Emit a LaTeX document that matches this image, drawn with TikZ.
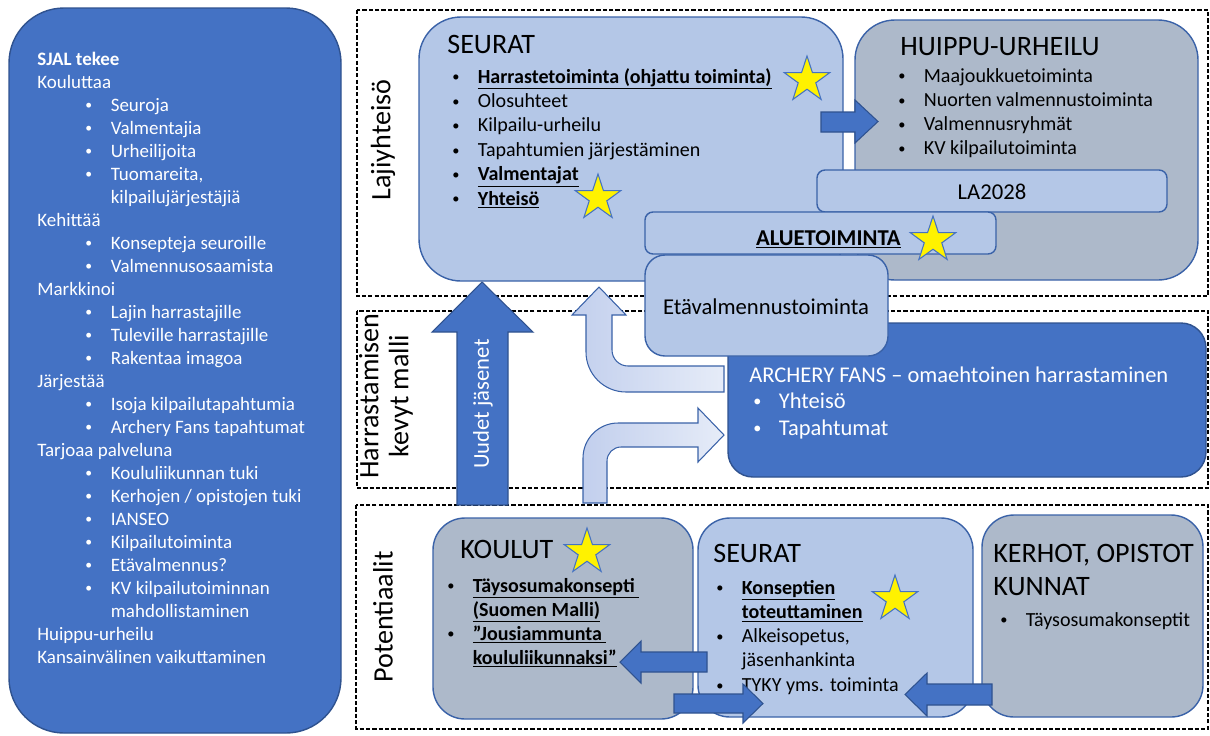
\documentclass[tikz,border=0pt]{standalone}
\usepackage{fontspec}
\setmainfont{Carlito}
\usetikzlibrary{shapes.geometric}

\definecolor{darkblue}{HTML}{4472C4}
\definecolor{darkedge}{HTML}{2F528F}
\definecolor{lightblue}{HTML}{B4C7E7}
\definecolor{greyblue}{HTML}{ADB9CA}
\definecolor{edgeblue}{HTML}{3A62A8}
\definecolor{pale}{HTML}{E6ECF8}
\definecolor{paledark}{HTML}{C2CFED}

\newcommand{\bul}{\makebox[0.51cm][l]{\raisebox{0.12ex}{\scalebox{0.72}{\textbullet}}}}
\newcommand{\cont}{\hspace*{0.51cm}}
\newcommand{\ind}{\hspace*{0.96cm}}
\newcommand{\keyitem}[1]{\underline{\textbf{#1}}}

\begin{document}
\begin{tikzpicture}[
        x=0.02cm, y=-0.02cm,
        frame/.style={draw=black, line width=0.6pt, dash pattern=on 2.4pt off 1.2pt},
        darkbox/.style={draw=darkedge, fill=darkblue, line width=0.8pt},
        lightbox/.style={draw=edgeblue, fill=lightblue, line width=0.8pt},
        greybox/.style={draw=edgeblue, fill=greyblue, line width=0.8pt},
        blockarrow/.style={draw=darkedge, fill=darkblue, line width=0.6pt},
        bentarrow/.style={draw=edgeblue, left color=paledark, right color=pale, line width=0.6pt},
        goldstar/.style={star, star points=5, star point ratio=2.6, draw=darkblue, fill=yellow,
          line width=0.6pt, minimum size=0.96cm, inner sep=0pt},
        txt/.style={anchor=base west, inner sep=0pt, font=\fontsize{11.4}{13.9}\selectfont},
        side/.style={txt, text=white, font=\fontsize{10.8}{13}\selectfont},
        fans/.style={txt, text=white, font=\fontsize{12.8}{15}\selectfont},
        head/.style={anchor=base west, inner sep=0pt, font=\fontsize{16}{19}\selectfont},
        label/.style={inner sep=0pt, font=\fontsize{12.9}{15}\selectfont},
        band/.style={rotate=90, inner sep=0pt, align=center, font=\fontsize{16}{17}\selectfont},
      ]
      \useasboundingbox (0,0) rectangle (1210,735);

      % dashed bands
      \draw[frame] (357,10) rectangle (1208,296);
      \draw[frame] (357,311) rectangle (1208,488);
      \draw[frame] (356,505) rectangle (1208,729);

      % SJAL panel
      \draw[darkbox, rounded corners=1.1cm] (9,8) rectangle (341,733);
      \foreach \t [count=\i] in {\textbf{SJAL tekee}, Kouluttaa, \ind\bul Seuroja, \ind\bul Valmentajia,
          \ind\bul Urheilijoita, {\ind\bul Tuomareita,}, \ind\cont kilpailujärjestäjiä, Kehittää,
          \ind\bul Konsepteja seuroille, \ind\bul Valmennusosaamista, Markkinoi,
          \ind\bul Lajin harrastajille, \ind\bul Tuleville harrastajille, \ind\bul Rakentaa imagoa,
          Järjestää, \ind\bul Isoja kilpailutapahtumia, \ind\bul Archery Fans tapahtumat,
          Tarjoaa palveluna, \ind\bul Koululiikunnan tuki, \ind\bul Kerhojen / opistojen tuki,
          \ind\bul IANSEO, \ind\bul Kilpailutoiminta, \ind\bul Etävalmennus?,
          \ind\bul KV kilpailutoiminnan, \ind\cont mahdollistaminen, Huippu-urheilu,
          Kansainvälinen vaikuttaminen}
        \node[side] (sjal-\i) at (37, {42+23*\i}) {\t};

      \node[band] (laji) at (383,140) {Lajiyhteisö};
      \node[band] (kevyt) at (386,396) {Harrastamisen\\kevyt malli};
      \node[band] (pot) at (383,617) {Potentiaalit};

      % Lajiyhteisö
      \draw[lightbox, rounded corners=0.84cm] (419,17) rectangle (843,281);
      \draw[greybox, rounded corners=0.8cm] (855,20) rectangle (1198,280);
      \draw[blockarrow] (821,112) -- (855,112) -- (855,100) -- (878,121.5) -- (855,143) -- (855,132) -- (821,132) -- cycle;
      \draw[lightbox, rounded corners=0.16cm] (817,170) rectangle (1167,212);
      \draw[lightbox, rounded corners=0.16cm] (645,212) rectangle (996,254);

      \node[head] (seurat) at (447,53) {SEURAT};
      \foreach \t [count=\i] in {\keyitem{Harrastetoiminta (ohjattu toiminta)}, Olosuhteet, Kilpailu-urheilu,
          Tapahtumien järjestäminen, \keyitem{Valmentajat}, \keyitem{Yhteisö}}
        \node[txt] (seurat-\i) at (452, {83+24.4*(\i-1)}) {\bul\t};
      \node[head] (huippu) at (900,55) {HUIPPU-URHEILU};
      \foreach \t [count=\i] in {Maajoukkuetoiminta, Nuorten valmennustoiminta, Valmennusryhmät, KV kilpailutoiminta}
        \node[txt] (huippu-\i) at (898, {82+24.3*(\i-1)}) {\bul\t};
      \node[label] (la) at (992,192) {LA2028};
      \node[label, anchor=base east] (alue) at (901,245) {\keyitem{ALUETOIMINTA}};

      % Harrastamisen kevyt malli
      \draw[darkbox, rounded corners=0.5cm] (728,323) rectangle (1206,477);
      \draw[lightbox, rounded corners=0.4cm] (645,255) rectangle (888,356);
      \node[label] (eta) at (766,307) {Etävalmennustoiminta};
      \node[fans] (fans) at (749,382) {ARCHERY FANS -- omaehtoinen harrastaminen};
      \node[fans] (fans-1) at (753,408) {\bul Yhteisö};
      \node[fans] (fans-2) at (753,435) {\bul Tapahtumat};

      \draw[blockarrow] (457,505) -- (457,332) -- (432,332) -- (482,282) -- (533,332) -- (508,332) -- (508,505) -- cycle;
      \node[label, rotate=90, text=white] (uudet) at (483,404) {Uudet jäsenet};
      \draw[bentarrow] (724,366) -- (628,366) arc[start angle=270, end angle=180, radius=0.32cm]
        -- (612,315) -- (626,315) -- (599,287) -- (572,315) -- (586,315)
        -- (586,352) arc[start angle=180, end angle=270, radius=0.8cm] -- (724,392) -- cycle;
      \draw[bentarrow] (583,503) -- (583,458) arc[start angle=180, end angle=90, radius=0.7cm]
        -- (698,423) -- (698,408) -- (724,435) -- (698,462) -- (698,447) -- (621,447)
        arc[start angle=90, end angle=180, radius=0.28cm] -- (607,503) -- cycle;

      % Potentiaalit
      \draw[greybox, rounded corners=0.64cm] (433,518) rectangle (693,719);
      \draw[lightbox, rounded corners=0.64cm] (698,518) rectangle (973,717);
      \draw[greybox, rounded corners=0.64cm] (982,515) rectangle (1203,717);

      \node[head] (koulut) at (460,558) {KOULUT};
      \node[txt] (koulut-1) at (447,592) {\bul\keyitem{Täysosumakonsepti }};
      \node[txt] (koulut-2) at (447,616) {\cont\keyitem{(Suomen Malli)}};
      \node[txt] (koulut-3) at (447,640) {\bul\keyitem{”Jousiammunta }};
      \node[txt] (koulut-4) at (447,664) {\cont\keyitem{koululiikunnaksi”}};
      \node[head] (seurat2) at (713,562) {SEURAT};
      \foreach \t [count=\i] in {\bul\keyitem{Konseptien}, \cont\keyitem{toteuttaminen}, {\bul Alkeisopetus,},
          \cont jäsenhankinta, \bul TYKY yms. toiminta}
        \node[txt] (seurat2-\i) at (716, {594+24.3*(\i-1)}) {\t};
      \node[head] (kerhot) at (993,562) {KERHOT, OPISTOT};
      \node[head] (kunnat) at (993,595) {KUNNAT};
      \node[txt] (kerhot-1) at (1000,626) {\bul Täysosumakonseptit};

      \draw[blockarrow] (707,652) -- (641,652) -- (641,641) -- (620,662) -- (641,683) -- (641,672) -- (707,672) -- cycle;
      \draw[blockarrow] (674,694) -- (743,694) -- (743,684) -- (763,703.5) -- (743,723) -- (743,713) -- (674,713) -- cycle;
      \draw[blockarrow] (992,684) -- (927,684) -- (927,673) -- (905,694.5) -- (927,716) -- (927,705) -- (992,705) -- cycle;

      % stars
      \node[goldstar] (star-1) at (807,80) {};
      \node[goldstar] (star-2) at (598,198) {};
      \node[goldstar] (star-3) at (933,240) {};
      \node[goldstar] (star-4) at (587,552) {};
      \node[goldstar] (star-5) at (895,599) {};

    \end{tikzpicture}
\end{document}
